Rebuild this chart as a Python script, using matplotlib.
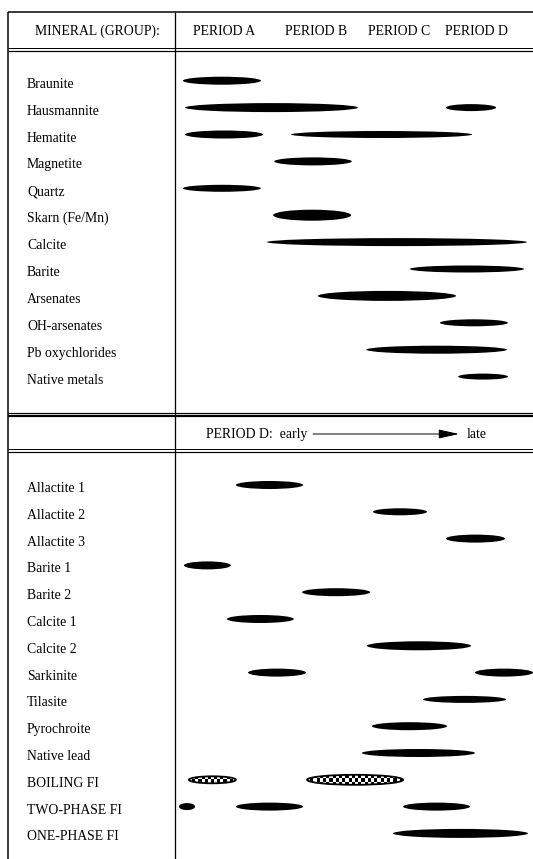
import numpy as np
import matplotlib
matplotlib.use("Agg")
import matplotlib.pyplot as plt
from matplotlib.patches import Ellipse
from matplotlib import transforms

plt.rcParams['font.family'] = ['Liberation Serif', 'DejaVu Serif']

W, H = 533, 859
FS = 9.9

# ---- data: relative time (0-100) spans per mineral, bar thickness (px) ----
period_labels = ["PERIOD A", "PERIOD B", "PERIOD C", "PERIOD D"]
period_centers = [13.7, 39.5, 62.7, 84.1]

top_minerals = ["Braunite", "Hausmannite", "Hematite", "Magnetite", "Quartz",
                "Skarn (Fe/Mn)", "Calcite", "Barite", "Arsenates",
                "OH-arsenates", "Pb oxychlorides", "Native metals"]
top_spans = [
    [(2.2, 24.0)],
    [(2.8, 51.1), (75.7, 89.7)],
    [(2.8, 24.6), (32.4, 83.0)],
    [(27.7, 49.4)],
    [(2.2, 24.0)],
    [(27.4, 49.2)],
    [(25.7, 98.3)],
    [(65.6, 97.5)],
    [(39.9, 78.5)],
    [(74.0, 93.0)],
    [(53.4, 92.7)],
    [(79.1, 93.0)],
]
top_thick = [[8], [9, 7], [8, 7], [8], [7], [11], [8], [7], [10], [7], [8], [6]]

bottom_minerals = ["Allactite 1", "Allactite 2", "Allactite 3", "Barite 1",
                   "Barite 2", "Calcite 1", "Calcite 2", "Sarkinite",
                   "Tilasite", "Pyrochroite", "Native lead", "BOILING FI",
                   "TWO-PHASE FI", "ONE-PHASE FI"]
bottom_spans = [
    [(17.0, 35.8)],
    [(55.3, 70.4)],
    [(75.7, 92.2)],
    [(2.5, 15.6)],
    [(35.5, 54.5)],
    [(14.5, 33.2)],
    [(53.6, 82.7)],
    [(20.4, 36.6), (83.8, 100.0)],
    [(69.3, 92.5)],
    [(55.0, 76.0)],
    [(52.2, 83.8)],
    [(3.9, 17.0), (36.9, 63.7)],
    [(1.1, 5.6), (17.0, 35.8), (63.7, 82.4)],
    [(60.9, 98.6)],
]
bottom_thick = [[8], [7], [8], [8], [8], [8], [9], [8, 8], [7], [8], [8],
                [7, 10], [7, 8, 8], [9]]
checkered_rows = ["BOILING FI"]

# ---- figure and a pixel-space frame for rules and labels ----
fig = plt.figure(figsize=(W / 100, H / 100), dpi=100)
fig.patch.set_facecolor("white")
frame = fig.add_axes([0, 0, 1, 1])
frame.set_xlim(0, W)
frame.set_ylim(H, 0)
frame.axis("off")

PX = 0.72  # one pixel in points


def hline(y, x0=8, x1=W, lw=1.0):
    frame.plot([x0, x1], [y, y], color="black", lw=lw * PX, solid_capstyle="butt")


def vline(x, y0=12, y1=H, lw=1.0):
    frame.plot([x, x], [y0, y1], color="black", lw=lw * PX, solid_capstyle="butt")


hline(12, lw=1.5)
hline(48, lw=1.0)
hline(51, lw=1.2)
hline(413, lw=1.2)
hline(416, lw=2.2)
hline(449, lw=1.0)
hline(452, lw=1.2)
vline(8, lw=1.5)
vline(175, lw=1.3)

DIV_X = 175


def timeline_axes(y0, y1, row0, step):
    ax = fig.add_axes([DIV_X / W, 1 - y1 / H, (W - DIV_X) / W, (y1 - y0) / H])
    ax.set_xlim(0, 100)
    ax.set_ylim((y1 - row0) / step, (y0 - row0) / step)
    ax.axis("off")
    ax.patch.set_alpha(0)
    return ax


TOP_ROW0, TOP_STEP = 80.7, 26.9
BOT_ROW0, BOT_STEP = 485.0, 26.8
ax_top = timeline_axes(53, 410, TOP_ROW0, TOP_STEP)
ax_bot = timeline_axes(455, H, BOT_ROW0, BOT_STEP)
XPX = (W - DIV_X) / 100.0  # pixels per time unit


def draw_section(ax, names, spans, thick, step):
    for r, (name, segs, ths) in enumerate(zip(names, spans, thick)):
        for (a, b), th in zip(segs, ths):
            h = th / step
            if name in checkered_rows:
                cell = 3.2
                nx = max(2, int(round((b - a) * XPX / cell)))
                ny = max(2, int(round(th / cell)))
                grid = (np.add.outer(np.arange(ny), np.arange(nx)) % 2).astype(float)
                clip = Ellipse(((a + b) / 2, r), b - a, h, transform=ax.transData)
                im = ax.imshow(grid, cmap="gray", vmin=0, vmax=1,
                               extent=(a, b, r + h / 2, r - h / 2),
                               interpolation="nearest", aspect="auto", zorder=2)
                im.set_clip_path(clip)
                ax.add_patch(Ellipse(((a + b) / 2, r), b - a, h, facecolor="none",
                                     edgecolor="black", lw=1.3, zorder=3))
            else:
                ax.add_patch(Ellipse(((a + b) / 2, r), b - a, h,
                                     facecolor="black", edgecolor="none", zorder=2))


draw_section(ax_top, top_minerals, top_spans, top_thick, TOP_STEP)
draw_section(ax_bot, bottom_minerals, bottom_spans, bottom_thick, BOT_STEP)
for ax, y0, y1, r0, st in [(ax_top, 53, 410, TOP_ROW0, TOP_STEP),
                           (ax_bot, 455, H, BOT_ROW0, BOT_STEP)]:
    ax.set_xlim(0, 100)
    ax.set_ylim((y1 - r0) / st, (y0 - r0) / st)

# ---- row labels ----
for i, name in enumerate(top_minerals):
    frame.text(27, TOP_ROW0 + TOP_STEP * i + 7, name, fontsize=FS,
               ha="left", va="baseline")
for i, name in enumerate(bottom_minerals):
    frame.text(27, BOT_ROW0 + BOT_STEP * i + 7, name, fontsize=FS,
               ha="left", va="baseline")

# ---- header ----
frame.text(97, 35, "MINERAL (GROUP):", fontsize=FS, ha="center", va="baseline")
hdr = transforms.blended_transform_factory(ax_top.transData, frame.transData)
for lab, c in zip(period_labels, period_centers):
    frame.text(c, 35, lab, fontsize=FS, ha="center", va="baseline", transform=hdr)

# ---- period D sub-header with arrow ----
frame.text(206, 438, "PERIOD D:  early", fontsize=FS, ha="left", va="baseline")
frame.annotate("", xy=(459, 434), xytext=(313, 434),
               arrowprops=dict(arrowstyle="-|>,head_length=0.9,head_width=0.2",
                               lw=0.7, color="black",
                               mutation_scale=14, shrinkA=0, shrinkB=0))
frame.text(467, 438, "late", fontsize=FS, ha="left", va="baseline")

fig.savefig("out.png", dpi=100, facecolor="white")
